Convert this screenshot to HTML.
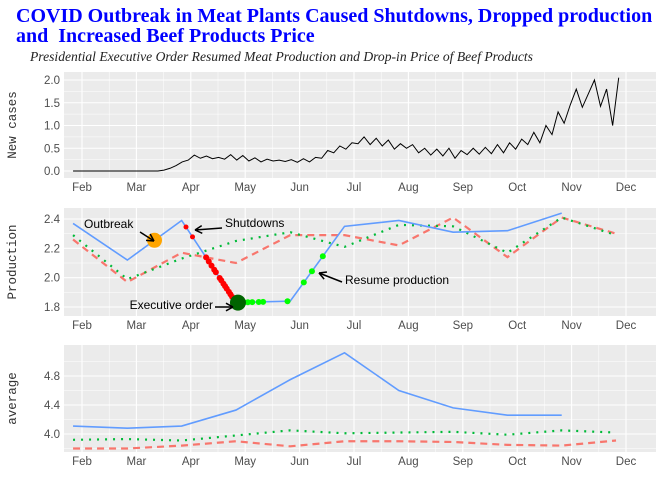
<!DOCTYPE html>
<html><head><meta charset="utf-8"><style>
body{margin:0;background:#fff;width:672px;height:480px;overflow:hidden}
svg{display:block}
</style></head><body>
<svg id="c" width="672" height="480" xmlns="http://www.w3.org/2000/svg">
<text x="16" y="22" font-family="Liberation Serif, serif" font-size="20" font-weight="bold" fill="#0000ff">COVID Outbreak in Meat Plants Caused Shutdowns, Dropped production</text>
<text x="16" y="42" font-family="Liberation Serif, serif" font-size="20" font-weight="bold" fill="#0000ff" xml:space="preserve">and  Increased Beef Products Price</text>
<text x="30" y="61" font-family="Liberation Serif, serif" font-size="13.6" font-style="italic" fill="#222">Presidential Executive Order Resumed Meat Production and Drop-in Price of Beef Products</text>
</svg>
<script>
// ---- data ----
const months=["Feb","Mar","Apr","May","Jun","Jul","Aug","Sep","Oct","Nov","Dec"];
// new cases sampled every ~3.33 days starting Jan 27
const cases=[0,0,0,0,0,0,0,0,0,0,0,0,0,0,0,0.02,0.06,0.12,0.2,0.24,0.35,0.28,0.33,0.27,0.3,0.26,0.36,0.24,0.34,0.22,0.29,0.2,0.26,0.22,0.24,0.21,0.25,0.19,0.27,0.2,0.3,0.28,0.45,0.4,0.55,0.48,0.62,0.6,0.75,0.58,0.72,0.55,0.68,0.48,0.6,0.5,0.58,0.4,0.5,0.35,0.48,0.33,0.5,0.28,0.45,0.36,0.5,0.37,0.52,0.38,0.58,0.4,0.62,0.48,0.7,0.58,0.85,0.62,1.0,0.8,1.3,1.05,1.45,1.8,1.4,1.7,2.0,1.42,1.8,1.0,2.05];
const prodBlue=[2.37,2.12,2.39,1.83,1.84,2.35,2.39,2.31,2.32,2.44];
const prodRed=[2.26,1.97,2.17,2.10,2.29,2.29,2.22,2.41,2.14,2.41,2.30];
const prodGreen=[2.29,1.99,2.13,2.25,2.31,2.21,2.36,2.35,2.17,2.41,2.29];
const avgBlue=[4.11,4.08,4.11,4.33,4.75,5.12,4.60,4.36,4.26,4.26];
const avgRed=[3.80,3.80,3.84,3.90,3.83,3.90,3.90,3.89,3.85,3.84,3.91];
const avgGreen=[3.92,3.93,3.91,3.98,4.05,4.01,4.02,4.03,3.99,4.05,4.02];
const casesTicks=[0,0.5,1,1.5,2];
const prodTicks=[1.8,2.0,2.2,2.4];
const avgTicks=[4.0,4.4,4.8];

const svg=document.getElementById('c');
const NS="http://www.w3.org/2000/svg";
function el(t,a,p){const e=document.createElementNS(NS,t);for(const k in a)e.setAttribute(k,a[k]);(p||svg).appendChild(e);return e;}
const xDay=d=>82+d*1.789;
const xMon=i=>xDay(-5)+i*30.35*1.789;
const X0=64,X1=656;
function panel(name,top,bot,v0,y0,v1,y1,ticks,fmt,label){
  const y=v=>y0+(v-v0)*(y1-y0)/(v1-v0);
  const g=el('g',{});
  
  
  el('rect',{x:X0,y:top,width:X1-X0,height:bot-top,fill:'#ebebeb'},g);
  const step=ticks[1]-ticks[0];
  for(let k=-2;k<ticks.length+2;k++){const v=ticks[0]+(k+0.5)*step;const yy=y(v);if(yy>top&&yy<bot)el('line',{x1:X0,x2:X1,y1:yy,y2:yy,stroke:'#fff','stroke-width':0.5},g);}
  for(let i=0;i<months.length-1;i++){const xx=82+(i+0.5)*54.4;el('line',{x1:xx,x2:xx,y1:top,y2:bot,stroke:'#fff','stroke-width':0.5},g);}
  ticks.forEach(v=>{const yy=y(v);el('line',{x1:X0,x2:X1,y1:yy,y2:yy,stroke:'#fff','stroke-width':1.1},g);
    const t=el('text',{x:X0-4,y:yy+4,'text-anchor':'end','font-family':'Liberation Sans, sans-serif','font-size':11.5,fill:'#4d4d4d'},g);t.textContent=fmt(v);
    });
  months.forEach((m,i)=>{const xx=82+i*54.4;el('line',{x1:xx,x2:xx,y1:top,y2:bot,stroke:'#fff','stroke-width':1.1},g);
    const t=el('text',{x:xx,y:bot+13,'text-anchor':'middle','font-family':'Liberation Sans, sans-serif','font-size':11.5,fill:'#4d4d4d'},g);t.textContent=m;
    });
  const t=el('text',{transform:`translate(16,${(top+bot)/2}) rotate(-90)`,'text-anchor':'middle','font-family':'Liberation Mono, monospace','font-size':12.5,fill:'#333'},g);t.textContent=label;
  
  return y;
}
function line(pts,attrs,name){const p=el('polyline',Object.assign({points:pts.map(q=>q.join(',')).join(' '),fill:'none'},attrs));
  return p;}
const BL={stroke:'#619cff','stroke-width':1.6};
const RD={stroke:'#f8766d','stroke-width':2.2,'stroke-dasharray':'7,5'};
const GR={stroke:'#00ba38','stroke-width':2.2,'stroke-dasharray':'2,6'};

// panel 1
const y1=panel('cases',72,178,0,171,2,80,casesTicks,v=>v.toFixed(1),'New cases');
const cStep=(300+5)/(cases.length-1);
line(cases.map((v,i)=>[xDay(-5+i*cStep),y1(v)]),{stroke:'#000','stroke-width':1},'cases-line');

// panel 2
const y2=panel('production',208,316,1.8,307,2.4,219,prodTicks,v=>v.toFixed(1),'Production');
line(prodRed.map((v,i)=>[xMon(i),y2(v)]),RD,'production-red-series');
line(prodGreen.map((v,i)=>[xMon(i),y2(v)]),GR,'production-green-series');
line(prodBlue.map((v,i)=>[xMon(i),y2(v)]),BL,'production-blue-series');
const redF=[0.08,0.2,0.45,0.5,0.55,0.6,0.63,0.7,0.73,0.77,0.8,0.83,0.87,0.9,0.93];
redF.forEach((f,k)=>{const x=xMon(2)+f*(xMon(3)-xMon(2));const v=prodBlue[2]+f*(prodBlue[3]-prodBlue[2]);
  const c=el('circle',{cx:x,cy:y2(v),r:k<2?2.5:3,fill:'#ff0000'});});
const gf=[[3,0.1],[3,0.15],[3,0.22],[3,0.3],[3,0.42],[3,0.5],[3,0.95],[4,0.25],[4,0.4],[4,0.6]];
gf.forEach(([i,f])=>{const x=xMon(i)+f*(xMon(i+1)-xMon(i));const v=prodBlue[i]+f*(prodBlue[i+1]-prodBlue[i]);
  const c=el('circle',{cx:x,cy:y2(v),r:3,fill:'#00ff00'});});
{const f=0.5;const c=el('circle',{cx:xMon(1)+f*(xMon(2)-xMon(1)),cy:y2(prodBlue[1]+f*(prodBlue[2]-prodBlue[1])),r:7.5,fill:'#ffa500'});}
{const c=el('circle',{cx:xMon(3)+2,cy:y2(prodBlue[3]),r:8,fill:'#006400'});}
function ann(txt,tx,ty,ax1,ay1,ax2,ay2,anchor,name){
  const t=el('text',{x:tx,y:ty,'font-family':'Liberation Sans, sans-serif','font-size':12,fill:'#000','text-anchor':anchor});t.textContent=txt;
  
  el('line',{x1:ax1,y1:ay1,x2:ax2,y2:ay2,stroke:'#000','stroke-width':1.5});
  const a=Math.atan2(ay2-ay1,ax2-ax1),L=8;
  [0.5,-0.5].forEach(d=>el('line',{x1:ax2,y1:ay2,x2:ax2-L*Math.cos(a+d),y2:ay2-L*Math.sin(a+d),stroke:'#000','stroke-width':1.5}));
}
ann('Outbreak',84,228,140,232,154,241,'start','outbreak-label');
ann('Shutdowns',225,227,222,228,195,230,'start','shutdowns-label');
ann('Executive order',213,309,215,307,233,307,'end','executive-order-label');
ann('Resume production',345,284,342,282,319,273,'start','resume-production-label');

// panel 3
const y3=panel('average',345,452,4.0,434,4.8,376,avgTicks,v=>v.toFixed(1),'average');
line(avgRed.map((v,i)=>[xMon(i),y3(v)]),RD,'average-red-series');
line(avgGreen.map((v,i)=>[xMon(i),y3(v)]),GR,'average-green-series');
line(avgBlue.map((v,i)=>[xMon(i),y3(v)]),BL,'average-blue-series');
</script>
</body></html>
